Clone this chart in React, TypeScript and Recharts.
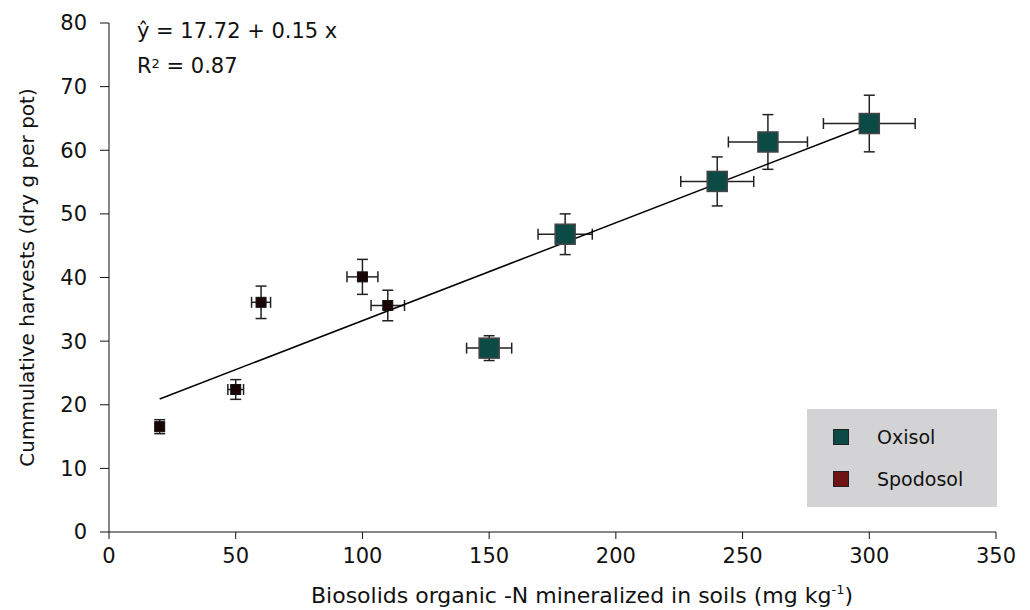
import React from 'react';
import { ScatterChart, Scatter, XAxis, YAxis, ErrorBar, Legend, Label } from 'recharts';

// Oxisol: N mineralized (mg/kg) vs cumulative harvest (dry g per pot)
const oxisolN = [150, 180, 240, 260, 300];
const oxisolHarvest = [28.9, 46.8, 55.1, 61.3, 64.2];
const oxisolNErr = [8.9, 10.7, 14.4, 15.6, 18.1];
const oxisolHarvestErr = [1.95, 3.2, 3.85, 4.3, 4.45];

// Spodosol
const spodosolN = [20, 50, 60, 100, 110];
const spodosolHarvest = [16.55, 22.4, 36.1, 40.1, 35.6];
const spodosolNErr = [1.2, 3.1, 3.75, 6.1, 6.6];
const spodosolHarvestErr = [1.1, 1.55, 2.55, 2.75, 2.4];

// fitted line endpoints as drawn
const fitN = [20, 300];
const fitHarvest = [20.9, 64.0];

const xTicks = [0, 50, 100, 150, 200, 250, 300, 350];
const yTicks = [0, 10, 20, 30, 40, 50, 60, 70, 80];

const OXISOL_FILL = '#0b4a45';
const SPODOSOL_FILL = '#6e1414';
const FONT = 'DejaVu Sans, sans-serif';

const oxisolData = oxisolN.map((n, i) => ({ n, h: oxisolHarvest[i], en: oxisolNErr[i], eh: oxisolHarvestErr[i] }));
const spodosolData = spodosolN.map((n, i) => ({ n, h: spodosolHarvest[i], en: spodosolNErr[i], eh: spodosolHarvestErr[i] }));
const fitData = fitN.map((n, i) => ({ n, h: fitHarvest[i] }));

const BigSquare = (props: any) => (
    <rect x={props.cx - 10} y={props.cy - 10} width={20} height={20} fill={OXISOL_FILL} stroke="#444" strokeWidth={1.5} />
);

const SmallSquare = (props: any) => (
    <rect x={props.cx - 5} y={props.cy - 5} width={10} height={10} fill="#1a0505" stroke="#111" strokeWidth={1} />
);

const legendColors: { [key: string]: string } = { Oxisol: OXISOL_FILL, Spodosol: SPODOSOL_FILL };

const renderLegend = (props: any) => {
    const items = (props.payload || []).filter((p: any) => p.type !== 'none');
    return (
        <div style={{ background: '#d3d3d5', width: 190, height: 98, boxSizing: 'border-box', paddingTop: 7 }}>
            {items.map((item: any) => (
                <div key={item.value} style={{ display: 'flex', alignItems: 'center', height: 42, fontSize: 19, color: '#111', fontFamily: FONT }}>
                    <span style={{ display: 'inline-block', width: 14, height: 14, marginLeft: 26, marginRight: 28, background: legendColors[item.value], border: '1px solid #222' }} />
                    <span>{item.value}</span>
                </div>
            ))}
        </div>
    );
};

const XTitle = () => (
    <text x={582} y={603} textAnchor="middle" fontSize={22} fill="#111" fontFamily={FONT}>
        Biosolids organic -N mineralized in soils (mg kg<tspan fontSize={13} dy={-9}>-1</tspan><tspan dy={9}>)</tspan>
    </text>
);

const App: React.FC = () => {
    return (
        <div style={{ position: 'absolute', left: 0, top: 0, width: 1030, height: 610, background: '#fff', fontFamily: FONT }}>
            <ScatterChart width={1030} height={610} margin={{ top: 23, right: 34, left: 0, bottom: 0 }}>
                <XAxis
                    type="number"
                    dataKey="n"
                    domain={[0, 350]}
                    ticks={xTicks}
                    interval={0}
                    height={78}
                    stroke="#111"
                    tickSize={7}
                    tickMargin={9}
                    tick={{ fill: '#111', fontSize: 21, fontFamily: FONT }}
                >
                    <Label content={<XTitle />} />
                </XAxis>
                <YAxis
                    type="number"
                    dataKey="h"
                    domain={[0, 80]}
                    ticks={yTicks}
                    interval={0}
                    width={109}
                    stroke="#111"
                    tickSize={9}
                    tickMargin={13}
                    tick={{ fill: '#111', fontSize: 21, fontFamily: FONT }}
                    label={{
                        value: 'Cummulative harvests (dry g per pot)',
                        angle: -90,
                        position: 'insideLeft',
                        offset: 27,
                        style: { textAnchor: 'middle', fontSize: 20, fill: '#111', fontFamily: FONT },
                    }}
                />
                <Legend
                    layout="horizontal"
                    verticalAlign="middle"
                    align="center"
                    content={renderLegend}
                    wrapperStyle={{ left: 807, top: 409, width: 190, height: 98 }}
                />
                <Scatter
                    name="fit"
                    data={fitData}
                    line={{ stroke: '#000', strokeWidth: 1.5 }}
                    shape={() => <g />}
                    legendType="none"
                    isAnimationActive={false}
                />
                <Scatter name="Oxisol" data={oxisolData} fill={OXISOL_FILL} shape={BigSquare} isAnimationActive={false}>
                    <ErrorBar dataKey="en" direction="x" width={5.5} stroke="#222" strokeWidth={1.5} />
                    <ErrorBar dataKey="eh" direction="y" width={5.5} stroke="#222" strokeWidth={1.5} />
                </Scatter>
                <Scatter name="Spodosol" data={spodosolData} fill={SPODOSOL_FILL} shape={SmallSquare} isAnimationActive={false}>
                    <ErrorBar dataKey="en" direction="x" width={5.5} stroke="#222" strokeWidth={1.5} />
                    <ErrorBar dataKey="eh" direction="y" width={5.5} stroke="#222" strokeWidth={1.5} />
                </Scatter>
            </ScatterChart>
            <div style={{ position: 'absolute', left: 137, top: 21, fontSize: 21, lineHeight: '20px', color: '#111', whiteSpace: 'nowrap' }}>
                ŷ = 17.72 + 0.15 x
            </div>
            <div style={{ position: 'absolute', left: 137, top: 56, fontSize: 21, lineHeight: '20px', color: '#111', whiteSpace: 'nowrap' }}>
                R<span style={{ fontSize: 13, verticalAlign: 'top', position: 'relative', top: -2 }}>2</span> = 0.87
            </div>
        </div>
    );
};

export default App;
